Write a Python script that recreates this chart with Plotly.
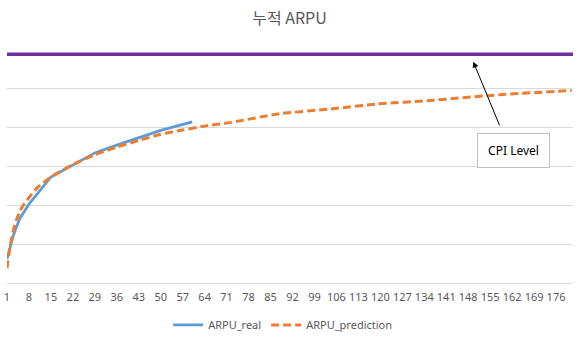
import plotly.graph_objects as go

# data (arbitrary units; the chart has no y labels)
real_x = [1, 3, 5, 8, 15, 22, 29, 36, 43, 50, 60]
real_y = [0.62, 1.22, 1.65, 2.03, 2.73, 3.05, 3.35, 3.55, 3.74, 3.93, 4.15]

pred_x = [1, 2, 3, 4, 5, 6, 8, 11, 15, 22, 29, 36, 43, 50, 57, 64, 72, 88, 104,
          119, 136, 155, 181]
pred_y = [0.38, 0.95, 1.35, 1.62, 1.83, 1.98, 2.2, 2.48, 2.73, 3.05, 3.3, 3.5,
          3.67, 3.83, 3.94, 4.04, 4.13, 4.36, 4.48, 4.61, 4.70, 4.83, 4.96]

cpi_x = [1, 181.4]
cpi_y = [5.89, 5.89]

tick_vals = list(range(1, 177, 7))
tick_text = [str(v) for v in tick_vals]

grey = "#595959"
font_main = "Noto Sans, Noto Sans CJK KR, sans-serif"

fig = go.Figure()
fig.add_trace(go.Scatter(x=cpi_x, y=cpi_y, mode="lines",
                         line=dict(color="#7030A0", width=3.5),
                         showlegend=False, hoverinfo="skip"))
fig.add_trace(go.Scatter(x=real_x, y=real_y, mode="lines", name="ARPU_real",
                         line=dict(color="#5B9BD5", width=2.75)))
fig.add_trace(go.Scatter(x=pred_x, y=pred_y, mode="lines", name="ARPU_prediction",
                         line=dict(color="#ED7D31", width=3, dash="8px,4px",
                                   shape="spline", smoothing=0.6)))

fig.update_layout(
    width=579, height=342,
    margin=dict(l=7, r=6, t=50, b=59, autoexpand=False),
    paper_bgcolor="white", plot_bgcolor="white",
    title=dict(text="누적 ARPU", x=0.5, xanchor="center", y=0.945, yanchor="middle",
               font=dict(family="Noto Sans CJK KR, sans-serif", size=16, color=grey)),
    font=dict(family=font_main, size=11, color=grey),
    xaxis=dict(range=[1, 181.4], tickmode="array", tickvals=tick_vals,
               ticktext=tick_text, showgrid=False, zeroline=False,
               showline=True, linecolor="#d9d9d9", linewidth=1,
               tickfont=dict(size=11, color=grey), ticks="", ticklabelstandoff=4),
    yaxis=dict(range=[0, 6], dtick=1, showticklabels=False, showgrid=True,
               gridcolor="#d9d9d9", zeroline=False, showline=False),
    legend=dict(orientation="h", x=0.487, xanchor="center", y=-0.18, yanchor="middle",
                font=dict(size=11, color=grey), itemwidth=30),
    annotations=[
        dict(x=149.6, y=5.70, xref="x", yref="y", ax=158.2, ay=4.02,
             axref="x", ayref="y", text="", showarrow=True, arrowhead=2,
             arrowsize=1.2, arrowwidth=1, arrowcolor="black"),
        dict(x=162.5, y=3.41, xref="x", yref="y", text="CPI Level",
             showarrow=False, font=dict(size=12, color="black"),
             bordercolor="#bfbfbf", borderwidth=1, borderpad=8, bgcolor="white",
             width=55),
    ],
)

fig.write_html("out.html")
